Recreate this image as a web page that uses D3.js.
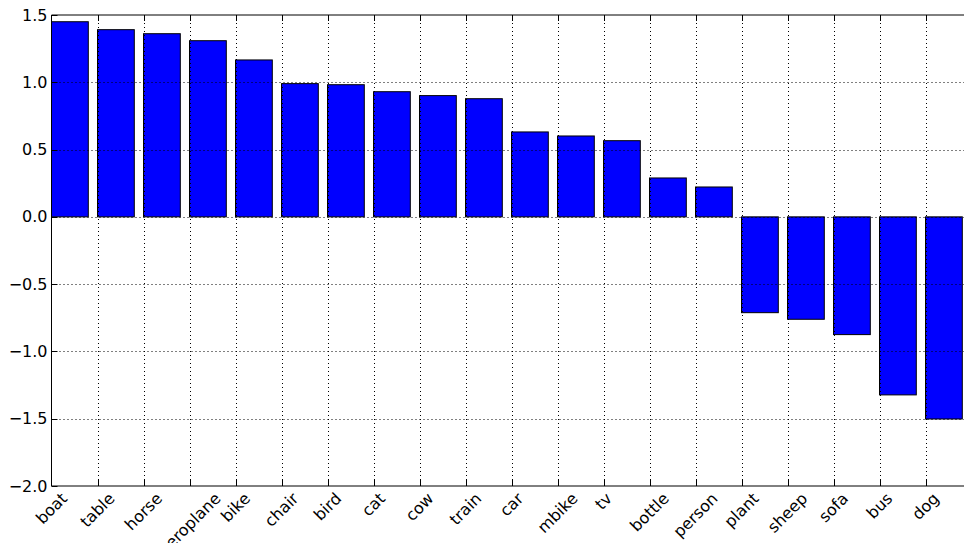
<!DOCTYPE html>
<html>
<head>
<meta charset="utf-8">
<script src="https://cdn.jsdelivr.net/npm/d3@7"></script>
<style>
  body { margin: 0; background: #fff; }
  svg text { font-family: "DejaVu Sans", sans-serif; }
</style>
</head>
<body>
<div class="barChart"></div>
<script>
// category names, in plotted order
var categories = ["boat", "table", "horse", "aeroplane", "bike", "chair", "bird", "cat", "cow", "train",
                  "car", "mbike", "tv", "bottle", "person", "plant", "sheep", "sofa", "bus", "dog"];
// bar heights
var values = [1.450, 1.391, 1.361, 1.309, 1.166, 0.990, 0.982, 0.930, 0.901, 0.878,
              0.631, 0.601, 0.566, 0.289, 0.222, -0.712, -0.761, -0.875, -1.323, -1.502];
var yTicks = [-2.0, -1.5, -1.0, -0.5, 0.0, 0.5, 1.0, 1.5];

var W = 964, H = 543;
var margin = {top: 15, left: 51.5, bottom: 57};
var plotH = H - margin.bottom - margin.top;

var svg = d3.select(".barChart")
  .append("svg")
    .attr("width", W)
    .attr("height", H);

// x in bar units: bar i spans [i, i+0.8], tick at i
var x = d3.scaleLinear()
  .domain([0, 20])
  .range([margin.left, margin.left + 46 * 20]);

var y = d3.scaleLinear()
  .domain([-2.0, 1.5])
  .range([margin.top + plotH, margin.top]);

var data = categories.map(function (c, i) { return {name: c, i: i, v: values[i]}; });

// bars
svg.append("g")
  .selectAll("rect")
  .data(data)
  .enter()
  .append("rect")
    .attr("x", function (d) { return x(d.i); })
    .attr("width", function (d) { return x(d.i + 0.8) - x(d.i); })
    .attr("y", function (d) { return y(Math.max(0, d.v)); })
    .attr("height", function (d) { return Math.abs(y(d.v) - y(0)); })
    .style("fill", "#0000ff")
    .style("stroke", "#000")
    .style("stroke-width", 1);

// grid (drawn on top, as in the picture)
var grid = svg.append("g").attr("class", "grid");
grid.selectAll("line.gx")
  .data(d3.range(1, 20))
  .enter()
  .append("line")
    .attr("x1", function (d) { return Math.round(x(d)) + 0.5; })
    .attr("x2", function (d) { return Math.round(x(d)) + 0.5; })
    .attr("y1", y(1.5))
    .attr("y2", y(-2.0))
    .style("stroke", "#000")
    .style("stroke-width", 1)
    .style("stroke-dasharray", "1,3");
grid.selectAll("line.gy")
  .data(yTicks.slice(1, -1))
  .enter()
  .append("line")
    .attr("x1", x(0))
    .attr("x2", W)
    .attr("y1", function (d) { return Math.round(y(d)) + 0.5; })
    .attr("y2", function (d) { return Math.round(y(d)) + 0.5; })
    .style("stroke", "#000")
    .style("stroke-width", 1)
    .style("stroke-dasharray", "1,3");

// inward tick marks on all sides
var tl = 6;
var ticks = svg.append("g");
d3.range(1, 20).forEach(function (k) {
  var px = Math.round(x(k)) + 0.5;
  ticks.append("line").attr("x1", px).attr("x2", px)
    .attr("y1", y(-2.0)).attr("y2", y(-2.0) - tl)
    .style("stroke", "#000");
  ticks.append("line").attr("x1", px).attr("x2", px)
    .attr("y1", y(1.5)).attr("y2", y(1.5) + tl)
    .style("stroke", "#000");
});
yTicks.forEach(function (t) {
  var py = Math.round(y(t)) + 0.5;
  ticks.append("line").attr("x1", x(0)).attr("x2", x(0) + tl)
    .attr("y1", py).attr("y2", py)
    .style("stroke", "#000");
});

// spines
svg.append("line").attr("x1", x(0)).attr("x2", x(0))
  .attr("y1", y(1.5)).attr("y2", y(-2.0)).style("stroke", "#000");
svg.append("line").attr("x1", x(0)).attr("x2", W + 10)
  .attr("y1", y(1.5)).attr("y2", y(1.5)).style("stroke", "#000");
svg.append("line").attr("x1", x(0)).attr("x2", W + 10)
  .attr("y1", y(-2.0)).attr("y2", y(-2.0)).style("stroke", "#000");

// y tick labels
var fmt = d3.format(".1f");
svg.append("g")
  .selectAll("text")
  .data(yTicks)
  .enter()
  .append("text")
    .attr("x", x(0) - 4)
    .attr("y", function (d) { return y(d); })
    .attr("text-anchor", "end")
    .attr("dominant-baseline", "central")
    .attr("font-size", "16px")
    .text(function (d) { return fmt(d); });

// x tick labels, rotated 45, bbox centred on the tick, top just below the axis
var fs = 16;
var labels = svg.append("g")
  .selectAll("text")
  .data(data)
  .enter()
  .append("text")
    .attr("text-anchor", "middle")
    .attr("dominant-baseline", "central")
    .attr("font-size", fs + "px")
    .text(function (d) { return d.name; });

labels.each(function (d) {
  var w = this.getComputedTextLength();
  var h = fs * 1.0;
  var cx = x(d.i);
  var cy = y(-2.0) + 4 + (w + h) * Math.SQRT1_2 / 2;
  d3.select(this)
    .attr("x", cx)
    .attr("y", cy)
    .attr("transform", "rotate(-45," + cx + "," + cy + ")");
});
</script>
</body>
</html>
